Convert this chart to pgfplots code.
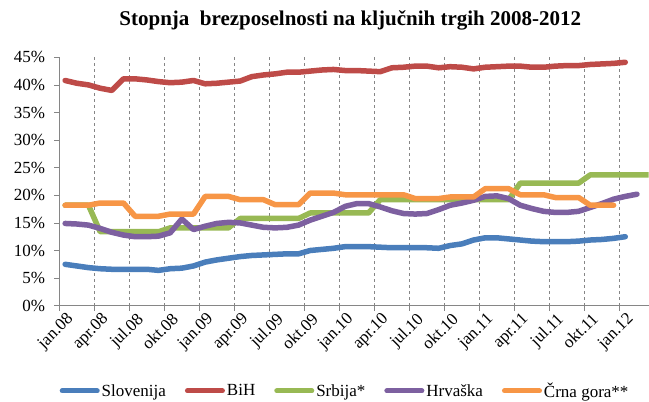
\documentclass[border=0pt]{standalone}
\usepackage{pgfplots}
\usepackage{pgfplotstable}
\pgfplotsset{compat=1.18}
\usepackage{fontspec}
\setmainfont{Liberation Serif}
\definecolor{cSlo}{HTML}{4A7EBB}
\definecolor{cBiH}{HTML}{BE4B48}
\definecolor{cSrb}{HTML}{98B954}
\definecolor{cHrv}{HTML}{7D60A0}
\definecolor{cCg}{HTML}{F79646}
\definecolor{axgray}{HTML}{868686}

\pgfplotstableread{
m v
0 7.5
1 7.2
2 6.9
3 6.7
4 6.6
5 6.6
6 6.6
7 6.6
8 6.4
9 6.7
10 6.8
11 7.2
12 7.9
13 8.3
14 8.6
15 8.9
16 9.1
17 9.2
18 9.3
19 9.4
20 9.4
21 10.0
22 10.2
23 10.4
24 10.7
25 10.7
26 10.7
27 10.6
28 10.5
29 10.5
30 10.5
31 10.5
32 10.4
33 10.9
34 11.2
35 11.9
36 12.3
37 12.3
38 12.1
39 11.9
40 11.7
41 11.6
42 11.6
43 11.6
44 11.7
45 11.9
46 12.0
47 12.2
48 12.5
}\slo

\pgfplotstableread{
m v
0 40.8
1 40.3
2 40.0
3 39.4
4 39.0
5 41.1
6 41.1
7 40.9
8 40.6
9 40.4
10 40.5
11 40.8
12 40.2
13 40.3
14 40.5
15 40.7
16 41.5
17 41.8
18 42.0
19 42.3
20 42.3
21 42.5
22 42.7
23 42.8
24 42.6
25 42.6
26 42.5
27 42.4
28 43.1
29 43.2
30 43.4
31 43.4
32 43.1
33 43.3
34 43.2
35 42.9
36 43.2
37 43.3
38 43.4
39 43.4
40 43.2
41 43.2
42 43.4
43 43.5
44 43.5
45 43.7
46 43.8
47 43.9
48 44.1
}\bih

\pgfplotstableread{
m v
0 18.2
1 18.2
2 18.2
3 13.4
4 13.4
5 13.4
6 13.4
7 13.4
8 13.4
9 14.1
10 14.1
11 14.1
12 14.1
13 14.1
14 14.1
15 15.8
16 15.8
17 15.8
18 15.8
19 15.8
20 15.8
21 16.8
22 16.8
23 16.8
24 16.8
25 16.8
26 16.8
27 19.2
28 19.2
29 19.2
30 19.2
31 19.2
32 19.2
33 19.2
34 19.2
35 19.2
36 19.2
37 19.2
38 19.2
39 22.2
40 22.2
41 22.2
42 22.2
43 22.2
44 22.2
45 23.7
46 23.7
47 23.7
48 23.7
49 23.7
50 23.7
}\srb

\pgfplotstableread{
m v
0 14.9
1 14.8
2 14.6
3 14.0
4 13.3
5 12.8
6 12.5
7 12.5
8 12.6
9 13.2
10 15.7
11 13.8
12 14.4
13 14.9
14 15.1
15 15.0
16 14.6
17 14.2
18 14.1
19 14.2
20 14.6
21 15.5
22 16.2
23 16.9
24 18.0
25 18.5
26 18.5
27 17.9
28 17.2
29 16.7
30 16.6
31 16.7
32 17.4
33 18.2
34 18.6
35 19.1
36 19.8
37 19.9
38 19.4
39 18.2
40 17.6
41 17.1
42 16.9
43 16.9
44 17.1
45 17.8
46 18.5
47 19.3
48 19.8
49 20.2
}\hrv

\pgfplotstableread{
m v
0 18.2
1 18.2
2 18.2
3 18.6
4 18.6
5 18.6
6 16.2
7 16.2
8 16.2
9 16.6
10 16.6
11 16.6
12 19.8
13 19.8
14 19.8
15 19.2
16 19.2
17 19.2
18 18.3
19 18.3
20 18.3
21 20.4
22 20.4
23 20.4
24 20.1
25 20.1
26 20.1
27 20.1
28 20.1
29 20.1
30 19.4
31 19.4
32 19.4
33 19.7
34 19.7
35 19.7
36 21.2
37 21.2
38 21.2
39 20.1
40 20.1
41 20.1
42 19.6
43 19.6
44 19.6
45 18.2
46 18.2
47 18.2
}\cg

\begin{document}
\begin{tikzpicture}[x=1bp,y=1bp]
\useasboundingbox (-59.3,-95.3) rectangle (589.7,305.7);
\begin{axis}[
  at={(0,0)}, anchor=south west,
  scale only axis,
  width=589.3bp, height=248.4bp,
  xmin=-0.5, xmax=50, ymin=0, ymax=45,
  axis x line*=bottom, axis y line*=left,
  axis line style={axgray, line width=0.8bp},
  xtick={-0.5,2.5,...,47.5},
  xticklabels={jan.08,apr.08,jul.08,okt.08,jan.09,apr.09,jul.09,okt.09,jan.10,apr.10,jul.10,okt.10,jan.11,apr.11,jul.11,okt.11,jan.12},
  ytick={0,5,...,45},
  yticklabel={\pgfmathprintnumber{\tick}\%},
  /pgf/number format/assume math mode=true,
  tick align=outside,
  major tick length=5bp,
  tick style={axgray, line width=0.8bp},
  xmajorgrids,
  grid style={axgray, dashed, line width=0.6bp, dash pattern=on 3bp off 3bp},
  tick label style={font=\fontsize{17bp}{19bp}\selectfont, text=black},
  x tick label style={rotate=45, anchor=north east, xshift=5bp, yshift=-4bp, inner sep=1bp},
  y tick label style={inner sep=1bp, xshift=-8bp},
  legend columns=5,
  legend style={at={(0.485,-0.343)}, anchor=center, draw=none, fill=none,
    font=\fontsize{17bp}{19bp}\selectfont, inner sep=0pt,
    /tikz/every even column/.append style={column sep=17bp}},
  legend image code/.code={\draw[#1, line width=5bp, line cap=round] (0bp,0bp) -- (35bp,0bp);},
  every axis plot/.append style={line width=5.5bp, line join=round, line cap=round},
]
\addplot[cSlo] table[x=m,y=v] {\slo};
\addlegendentry{Slovenija}
\addplot[cBiH] table[x=m,y=v] {\bih};
\addlegendentry{BiH}
\addplot[cSrb] table[x=m,y=v] {\srb};
\addlegendentry{Srbija*}
\addplot[cHrv] table[x=m,y=v] {\hrv};
\addlegendentry{Hrvaška}
\addplot[cCg] table[x=m,y=v] {\cg};
\addlegendentry{Črna gora**}
\end{axis}
\node[font=\bfseries\fontsize{21bp}{24bp}\selectfont, anchor=center] at (291,285.7) {Stopnja\ \ brezposelnosti na ključnih trgih 2008-2012};
\end{tikzpicture}
\end{document}
